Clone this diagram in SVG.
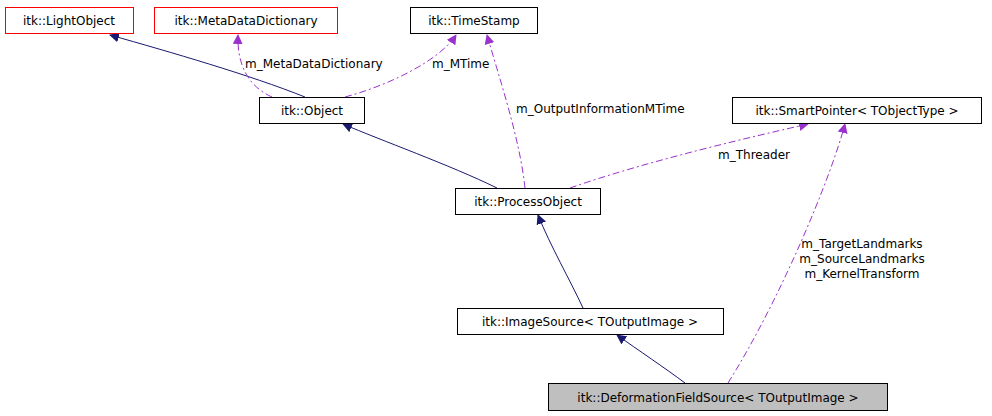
<svg xmlns="http://www.w3.org/2000/svg" width="992" height="416" viewBox="0 0 992 416">
<defs>
<style>
.n{fill:#fff;stroke:#000;stroke-width:1}
rect.r{stroke:#ff0000}
.g{fill:#bfbfbf}
text{font-family:"DejaVu Sans",sans-serif;font-size:12px;fill:#000}
.inh{fill:none;stroke:#191970;stroke-width:1}
.use{fill:none;stroke:#9a32cd;stroke-width:1;stroke-dasharray:7,3,2,3}
</style>
<marker id="a1" markerWidth="10" markerHeight="10" refX="9" refY="5" orient="auto" markerUnits="userSpaceOnUse"><path d="M0,0L10,5L0,10z" fill="#191970"/></marker>
<marker id="a2" markerWidth="10" markerHeight="10" refX="9" refY="5" orient="auto" markerUnits="userSpaceOnUse"><path d="M0,0L10,5L0,10z" fill="#9a32cd"/></marker>
</defs>
<g id="connectors">
<path class="inh" d="M305,97C250,75 170,52 110,35" marker-end="url(#a1)"/>
<path class="use" d="M272,97C245,85 237,60 238,35" marker-end="url(#a2)"/>
<path class="use" d="M345,97C390,85 440,60 456,35" marker-end="url(#a2)"/>
<path class="inh" d="M497,188C450,165 380,140 343,124" marker-end="url(#a1)"/>
<path class="use" d="M525,188C520,140 500,80 487,35" marker-end="url(#a2)"/>
<path class="use" d="M570,188C650,160 760,135 808,124" marker-end="url(#a2)"/>
<path class="inh" d="M583,308C570,280 550,245 538,215" marker-end="url(#a1)"/>
<path class="inh" d="M685,383C665,368 638,350 617,335" marker-end="url(#a1)"/>
<path class="use" d="M728,383C780,300 830,180 845,124" marker-end="url(#a2)"/>
<text x="245" y="68">m_MetaDataDictionary</text>
<text x="432" y="68">m_MTime</text>
<text x="516" y="113">m_OutputInformationMTime</text>
<text x="718" y="159">m_Threader</text>
<text x="862" y="248" text-anchor="middle">m_TargetLandmarks</text>
<text x="862" y="263" text-anchor="middle">m_SourceLandmarks</text>
<text x="862" y="278" text-anchor="middle">m_KernelTransform</text>
</g>
<g id="lightobject"><rect x="5.5" y="7.5" width="128" height="26" fill="#fff" stroke="#ff0000"/><text x="69" y="25" text-anchor="middle">itk::LightObject</text></g>
<g id="metadatadictionary"><rect x="154.5" y="7.5" width="183" height="26" fill="#fff" stroke="#ff0000"/><text x="246" y="25" text-anchor="middle">itk::MetaDataDictionary</text></g>
<g id="timestamp"><rect class="n" x="410.5" y="7.5" width="127" height="26"/><text x="474" y="25" text-anchor="middle">itk::TimeStamp</text></g>
<g id="object"><rect class="n" x="259.5" y="97.5" width="105" height="26"/><text x="312" y="115" text-anchor="middle">itk::Object</text></g>
<g id="smartpointer"><rect class="n" x="732.5" y="97.5" width="249" height="26"/><text x="857" y="115" text-anchor="middle">itk::SmartPointer&lt; TObjectType &gt;</text></g>
<g id="processobject"><rect class="n" x="455.5" y="188.5" width="145" height="26"/><text x="528" y="206" text-anchor="middle">itk::ProcessObject</text></g>
<g id="imagesource"><rect class="n" x="457.5" y="308.5" width="266" height="26"/><text x="590" y="326" text-anchor="middle">itk::ImageSource&lt; TOutputImage &gt;</text></g>
<g id="deformationfieldsource"><rect class="n g" x="548.5" y="383.5" width="339" height="27"/><text x="718" y="402" text-anchor="middle">itk::DeformationFieldSource&lt; TOutputImage &gt;</text></g>
</svg>
